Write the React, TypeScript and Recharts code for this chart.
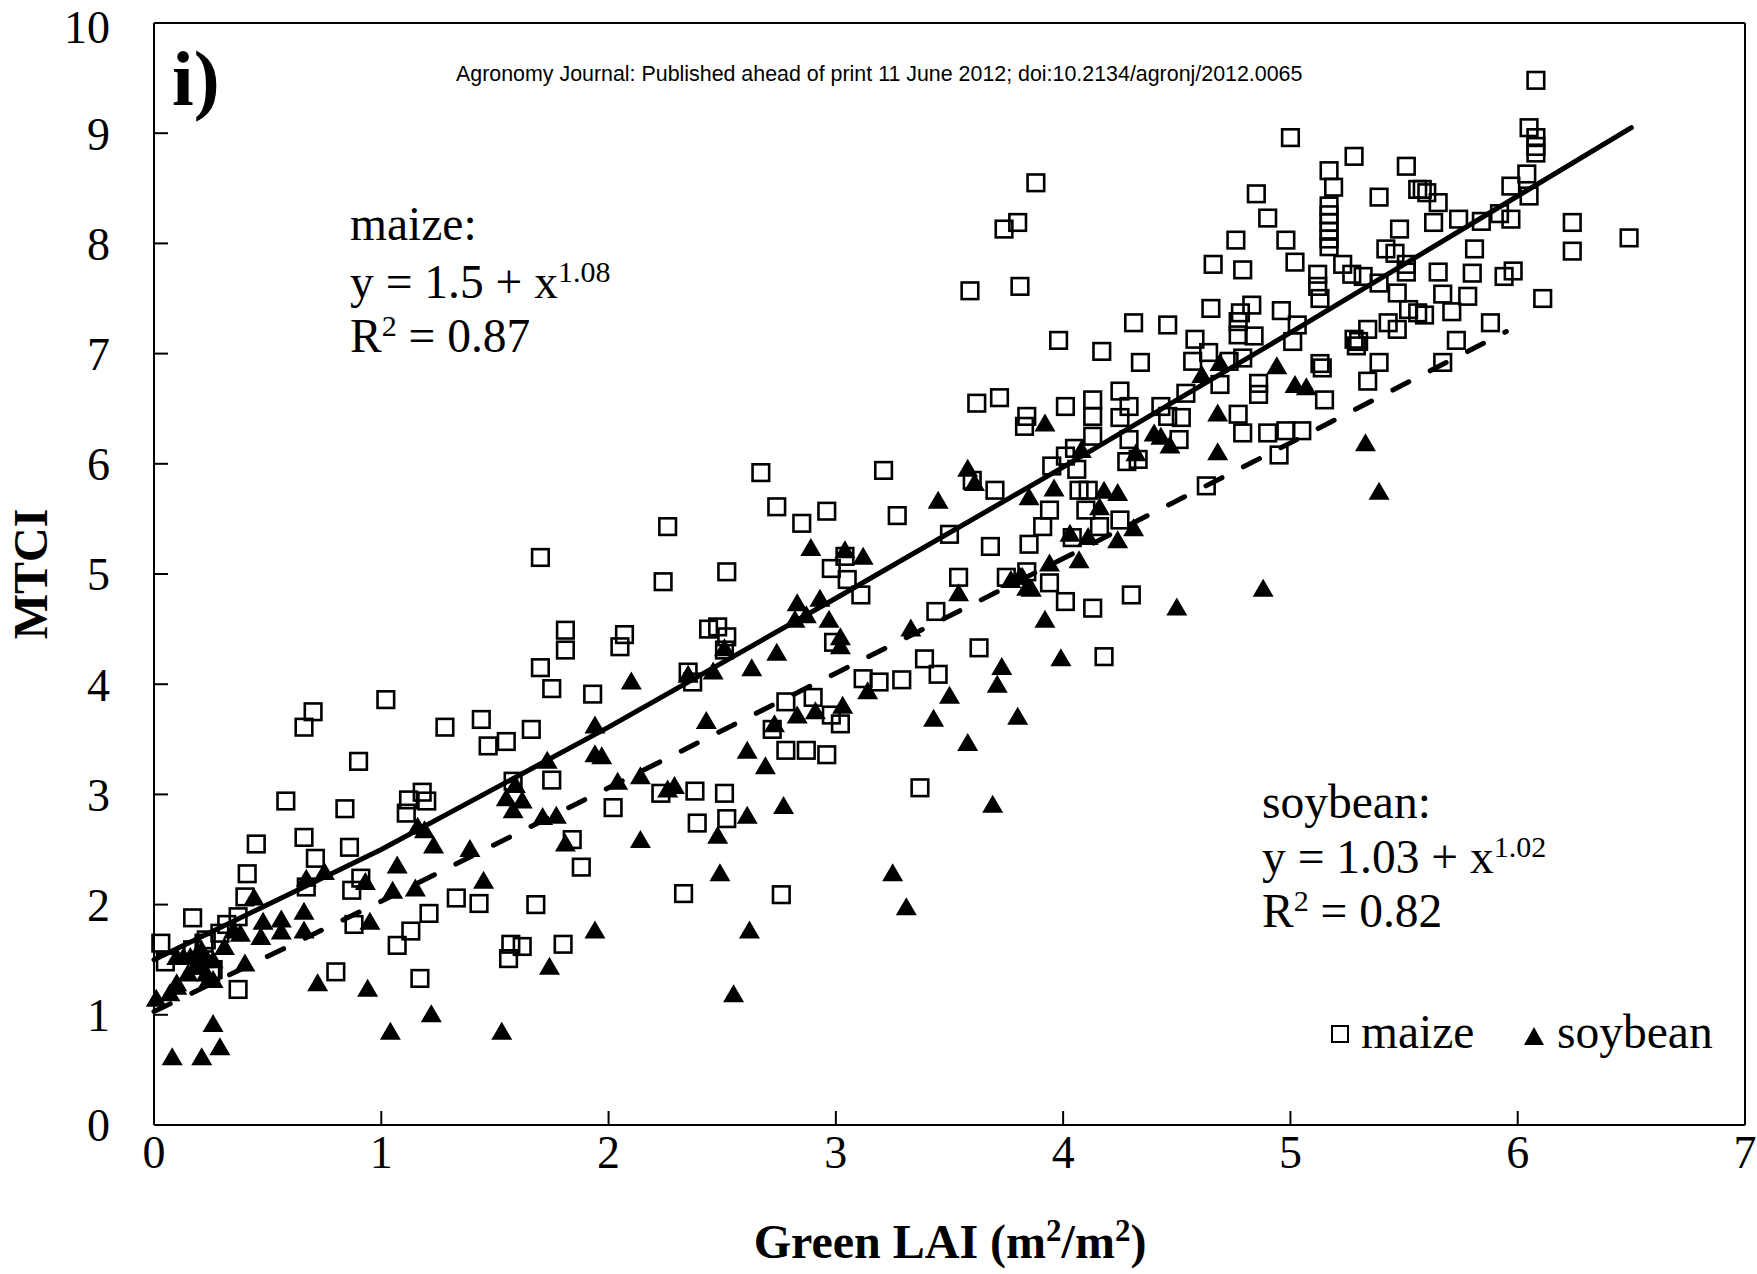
import React from 'react';
import { ScatterChart, Scatter, XAxis, YAxis, ReferenceLine } from 'recharts';

// Green LAI (m2/m2) vs MTCI
const maizeLow: [number, number][] = [
    [0.03, 1.65], [0.05, 1.48], [0.17, 1.88], [0.17, 1.59], [0.22, 1.65], [0.23, 1.68], [0.25, 1.39],
    [0.26, 1.41], [0.29, 1.74], [0.32, 1.82], [0.37, 1.89], [0.37, 1.23], [0.4, 2.07], [0.41, 2.28],
    [0.45, 2.55], [0.58, 2.94], [0.66, 2.61], [0.66, 3.61], [0.67, 2.16], [0.7, 3.75], [0.71, 2.42],
    [0.8, 1.39], [0.84, 2.87], [0.86, 2.52], [0.87, 2.13], [0.88, 1.82], [0.9, 3.3], [0.91, 2.24],
    [1.02, 3.86], [1.07, 1.63], [1.11, 2.83], [1.12, 2.95], [1.13, 1.76], [1.17, 1.33], [1.18, 3.02],
    [1.2, 2.94], [1.21, 1.92], [1.28, 3.61], [1.33, 2.06], [1.43, 2.01], [1.44, 3.68], [1.47, 3.44],
    [1.55, 3.48], [1.56, 1.51], [1.57, 1.64], [1.58, 3.12], [1.62, 1.62], [1.66, 3.59], [1.68, 2.0],
    [1.7, 4.15], [1.7, 5.15], [1.75, 3.96], [1.75, 3.13], [1.8, 1.64], [1.81, 4.49], [1.81, 4.31],
    [1.84, 2.59], [1.88, 2.34], [1.93, 3.91],
];

const maizeMid: [number, number][] = [
    [2.02, 2.88], [2.05, 4.34], [2.07, 4.45], [2.23, 3.01], [2.24, 4.93], [2.26, 5.43], [2.33, 2.1],
    [2.35, 4.11], [2.37, 4.02], [2.38, 3.03], [2.39, 2.74], [2.44, 4.5], [2.48, 4.52], [2.51, 3.01],
    [2.51, 4.31], [2.52, 4.43], [2.52, 2.78], [2.52, 5.02], [2.67, 5.92], [2.72, 3.59], [2.74, 5.61],
    [2.76, 2.09], [2.78, 3.84], [2.78, 3.4], [2.85, 5.46], [2.87, 3.4], [2.9, 3.88], [2.96, 5.57],
    [2.96, 3.36], [2.98, 3.72], [2.98, 5.05], [2.99, 4.38], [3.02, 3.64], [3.04, 5.16], [3.05, 4.95],
    [3.11, 4.81], [3.12, 4.05], [3.19, 4.02], [3.21, 5.94], [3.27, 5.53], [3.29, 4.04], [3.37, 3.06],
    [3.39, 4.23], [3.44, 4.66], [3.45, 4.09], [3.5, 5.36], [3.54, 4.97], [3.59, 7.57], [3.6, 5.85],
    [3.62, 6.55], [3.63, 4.33], [3.68, 5.25], [3.7, 5.76], [3.72, 6.6], [3.74, 8.13], [3.75, 4.97],
    [3.8, 8.19], [3.81, 7.61], [3.83, 6.34], [3.84, 6.43], [3.84, 5.02], [3.85, 5.27], [3.88, 8.55],
    [3.91, 5.43], [3.94, 5.58], [3.94, 4.92], [3.95, 5.98], [3.98, 7.12],
];

const maizeHigh: [number, number][] = [
    [4.01, 6.52], [4.01, 6.07], [4.01, 4.75], [4.04, 5.33], [4.05, 6.14], [4.06, 5.95], [4.07, 5.76],
    [4.1, 5.58], [4.11, 5.76], [4.13, 6.58], [4.13, 6.43], [4.13, 6.25], [4.13, 4.69], [4.16, 5.43],
    [4.17, 7.02], [4.18, 4.25], [4.25, 6.66], [4.25, 6.42], [4.25, 5.49], [4.28, 6.02], [4.29, 6.52],
    [4.29, 6.22], [4.3, 4.81], [4.31, 7.28], [4.33, 6.04], [4.34, 6.92], [4.43, 6.52], [4.46, 6.43],
    [4.46, 7.26], [4.51, 6.22], [4.52, 6.42], [4.54, 6.64], [4.57, 6.93], [4.58, 7.13], [4.63, 5.8],
    [4.64, 7.01], [4.65, 7.41], [4.66, 7.81], [4.69, 6.72], [4.73, 6.93], [4.76, 8.03], [4.77, 7.29],
    [4.77, 7.17], [4.77, 6.45], [4.78, 7.37], [4.79, 7.76], [4.79, 6.96], [4.79, 6.28], [4.83, 7.44],
    [4.84, 7.16], [4.85, 8.45], [4.86, 6.73], [4.86, 6.63], [4.9, 8.23], [4.9, 6.28], [4.95, 6.08],
    [4.96, 7.39], [4.98, 8.03], [4.98, 6.3], [5.0, 8.96], [5.01, 7.11], [5.02, 7.83], [5.03, 7.26],
    [5.05, 6.3], [5.12, 7.72], [5.12, 7.61], [5.13, 7.5], [5.13, 6.91], [5.14, 6.87], [5.15, 6.58],
    [5.17, 8.66], [5.17, 8.34], [5.17, 8.26], [5.17, 8.19], [5.17, 8.11], [5.17, 8.04], [5.17, 7.97],
    [5.19, 8.51], [5.23, 7.81], [5.27, 7.72], [5.28, 8.79], [5.28, 7.13], [5.29, 7.07], [5.3, 7.11],
    [5.32, 7.7], [5.34, 7.22], [5.34, 6.75], [5.39, 8.42], [5.39, 7.64], [5.39, 6.92], [5.42, 7.95],
    [5.43, 7.28], [5.46, 7.91], [5.47, 7.55], [5.47, 7.22], [5.48, 8.13], [5.51, 8.7], [5.51, 7.81],
    [5.51, 7.74], [5.52, 7.4], [5.56, 8.49], [5.56, 7.37], [5.58, 8.49], [5.59, 7.35], [5.6, 8.46],
    [5.63, 8.19], [5.65, 8.37], [5.65, 7.74], [5.67, 7.54], [5.67, 6.92], [5.71, 7.38], [5.73, 7.12],
    [5.74, 8.22], [5.78, 7.52], [5.8, 7.73], [5.81, 7.95], [5.84, 8.2], [5.88, 7.28], [5.92, 8.27],
    [5.94, 7.7], [5.97, 8.52], [5.97, 8.22], [5.98, 7.75], [6.04, 8.63], [6.05, 9.05], [6.05, 8.43],
    [6.08, 9.48], [6.08, 8.96], [6.08, 8.88], [6.08, 8.82], [6.11, 7.5], [6.24, 8.19], [6.24, 7.93],
    [6.49, 8.05],
];

const soybeanLow: [number, number][] = [
    [0.01, 1.15], [0.07, 1.2], [0.08, 0.62], [0.1, 1.26], [0.1, 1.29], [0.1, 1.53], [0.13, 1.53],
    [0.15, 1.38], [0.16, 1.53], [0.18, 1.44], [0.19, 1.56], [0.21, 1.44], [0.21, 1.59], [0.21, 0.62],
    [0.22, 1.5], [0.23, 1.38], [0.24, 1.32], [0.26, 1.5], [0.26, 1.32], [0.26, 0.92], [0.29, 0.71],
    [0.31, 1.62], [0.35, 1.77], [0.38, 1.74], [0.4, 1.47], [0.44, 2.07], [0.47, 1.71], [0.48, 1.85],
    [0.56, 1.87], [0.56, 1.76], [0.66, 1.94], [0.66, 1.77], [0.67, 2.24], [0.72, 1.29], [0.75, 2.3],
    [0.93, 2.21], [0.94, 1.24], [0.95, 1.85], [1.04, 0.85], [1.05, 2.13], [1.07, 2.36], [1.15, 2.15],
    [1.16, 2.71], [1.19, 2.68], [1.22, 1.01], [1.23, 2.54], [1.39, 2.51], [1.45, 2.22], [1.53, 0.85],
    [1.55, 2.97], [1.58, 2.86], [1.59, 3.09], [1.62, 2.95], [1.71, 2.8], [1.73, 3.31], [1.74, 1.44],
    [1.77, 2.81], [1.81, 2.56], [1.94, 3.63], [1.94, 3.37], [1.94, 1.77], [1.97, 3.35],
];

const soybeanMid: [number, number][] = [
    [2.04, 3.12], [2.1, 4.03], [2.14, 3.17], [2.14, 2.59], [2.26, 3.05], [2.29, 3.08], [2.35, 4.09],
    [2.43, 3.67], [2.46, 4.12], [2.48, 2.63], [2.49, 2.29], [2.51, 4.33], [2.55, 1.19], [2.61, 3.4],
    [2.61, 2.81], [2.62, 1.77], [2.63, 4.15], [2.69, 3.26], [2.73, 3.64], [2.74, 4.29], [2.77, 2.9],
    [2.82, 4.59], [2.83, 4.74], [2.83, 3.72], [2.87, 4.63], [2.89, 5.24], [2.91, 3.76], [2.93, 4.78],
    [2.97, 4.59], [3.02, 4.43], [3.02, 4.35], [3.03, 3.81], [3.04, 5.22], [3.12, 5.16], [3.14, 3.94],
    [3.25, 2.29], [3.31, 1.98], [3.33, 4.51], [3.43, 3.69], [3.45, 5.67], [3.5, 3.9], [3.54, 4.83],
    [3.58, 5.96], [3.58, 3.47], [3.61, 5.83], [3.69, 2.91], [3.71, 4.0], [3.73, 4.16], [3.77, 4.95],
    [3.8, 3.71], [3.81, 4.98], [3.82, 4.98], [3.84, 4.88], [3.85, 5.7], [3.86, 4.87], [3.92, 6.37],
    [3.92, 4.59], [3.94, 5.1], [3.96, 5.78], [3.99, 4.24],
];

const soybeanHigh: [number, number][] = [
    [4.03, 5.37], [4.07, 5.13], [4.08, 6.13], [4.11, 5.34], [4.16, 5.61], [4.18, 5.76], [4.24, 5.74],
    [4.24, 5.31], [4.31, 5.42], [4.32, 6.1], [4.4, 6.28], [4.43, 6.25], [4.47, 6.17], [4.5, 4.7],
    [4.61, 6.81], [4.68, 6.46], [4.68, 6.11], [4.69, 6.92], [4.88, 4.87], [4.94, 6.89], [5.02, 6.72],
    [5.07, 6.7], [5.33, 6.19], [5.39, 5.75],
];

// fitted curves drawn in the figure
const maizeFitLai = [0, 1, 2, 3, 4, 5, 6, 6.5];
const maizeFitMtci = [1.5, 2.5, 3.61, 4.78, 5.97, 7.19, 8.43, 9.05];
const soybeanFitLai = [0, 1, 2, 3, 4, 5, 5.95];
const soybeanFitMtci = [1.03, 2.03, 3.06, 4.1, 5.14, 6.19, 7.2];

const xTicks = [0, 1, 2, 3, 4, 5, 6, 7];
const yTicks = [0, 1, 2, 3, 4, 5, 6, 7, 8, 9, 10];

const toXY = (pts: [number, number][]) => pts.map(([x, y]) => ({ x, y }));
const maizeData = toXY([...maizeLow, ...maizeMid, ...maizeHigh]);
const soybeanData = toXY([...soybeanLow, ...soybeanMid, ...soybeanHigh]);
const maizeFit = maizeFitLai.map((x, i) => ({ x, y: maizeFitMtci[i] }));
const soybeanFit = soybeanFitLai.map((x, i) => ({ x, y: soybeanFitMtci[i] }));

const SERIF = '"Liberation Serif", "Times New Roman", serif';

const SquareMark = (props: any) => {
    const { cx, cy } = props;
    return <rect x={cx - 8.3} y={cy - 8.3} width={16.6} height={16.6} fill="none" stroke="#000" strokeWidth={2.6} />;
};

const TriangleMark = (props: any) => {
    const { cx, cy } = props;
    return <polygon points={`${cx},${cy - 9.5} ${cx + 10.5},${cy + 8.5} ${cx - 10.5},${cy + 8.5}`} fill="#000" />;
};

const NoMark = () => <g />;

export default function App() {
    return (
        <div style={{ position: 'absolute', left: 0, top: 0, width: 1757, height: 1274, background: '#fff' }}>
            <ScatterChart width={1757} height={1274} margin={{ top: 23, right: 12, bottom: 0, left: 0 }}>
                <XAxis
                    type="number"
                    dataKey="x"
                    domain={[0, 7]}
                    ticks={xTicks}
                    height={149}
                    tickSize={-14}
                    tickMargin={24}
                    axisLine={{ stroke: '#000', strokeWidth: 2 }}
                    tickLine={{ stroke: '#000', strokeWidth: 2 }}
                    tick={{ fontSize: 46, fill: '#000', fontFamily: SERIF }}
                />
                <YAxis
                    type="number"
                    dataKey="y"
                    domain={[0, 10]}
                    ticks={yTicks}
                    width={154}
                    tickSize={-14}
                    tickMargin={58}
                    axisLine={{ stroke: '#000', strokeWidth: 2 }}
                    tickLine={{ stroke: '#000', strokeWidth: 2 }}
                    tick={{ fontSize: 46, fill: '#000', fontFamily: SERIF }}
                />
                <ReferenceLine y={10} stroke="#000" strokeWidth={2} />
                <ReferenceLine x={7} stroke="#000" strokeWidth={2} />
                <Scatter name="maize" data={maizeData} shape={SquareMark} isAnimationActive={false} />
                <Scatter name="soybean" data={soybeanData} shape={TriangleMark} isAnimationActive={false} />
                <Scatter
                    name="maize fit"
                    data={maizeFit}
                    shape={NoMark}
                    line={{ stroke: '#000', strokeWidth: 5, strokeLinecap: 'round' }}
                    isAnimationActive={false}
                />
                <Scatter
                    name="soybean fit"
                    data={soybeanFit}
                    shape={NoMark}
                    line={{ stroke: '#000', strokeWidth: 5, strokeDasharray: '18 24', strokeLinecap: 'round' }}
                    isAnimationActive={false}
                />
            </ScatterChart>

            {/* annotations, axis titles and legend */}
            <svg width={1757} height={1274} style={{ position: 'absolute', left: 0, top: 0, pointerEvents: 'none' }} fontFamily={SERIF} fill="#000">
                <text x={172} y={105} fontSize={78} fontWeight="bold">i)</text>
                <text x={456} y={81} fontSize={21.4} fontFamily='"Liberation Sans", Arial, sans-serif'>
                    Agronomy Journal: Published ahead of print 11 June 2012; doi:10.2134/agronj/2012.0065
                </text>

                <text x={350} y={240} fontSize={47.5}>maize:</text>
                <text x={350} y={298} fontSize={47.5}>
                    y = 1.5 + x<tspan fontSize={30} dy={-16}>1.08</tspan>
                </text>
                <text x={350} y={352} fontSize={47.5}>
                    R<tspan fontSize={30} dy={-16}>2</tspan><tspan dy={16}> = 0.87</tspan>
                </text>

                <text x={1262} y={818} fontSize={47.5}>soybean:</text>
                <text x={1262} y={873} fontSize={47.5}>
                    y = 1.03 + x<tspan fontSize={30} dy={-16}>1.02</tspan>
                </text>
                <text x={1262} y={927} fontSize={47.5}>
                    R<tspan fontSize={30} dy={-16}>2</tspan><tspan dy={16}> = 0.82</tspan>
                </text>

                <rect x={1332} y={1026} width={16} height={16} fill="none" stroke="#000" strokeWidth={2} />
                <text x={1361} y={1048} fontSize={47.5}>maize</text>
                <polygon points="1534,1027 1544,1045 1524,1045" fill="#000" />
                <text x={1557} y={1048} fontSize={47.5}>soybean</text>

                <text transform="translate(47,574) rotate(-90)" textAnchor="middle" fontSize={48} fontWeight="bold">MTCI</text>
                <text x={950} y={1258} textAnchor="middle" fontSize={48} fontWeight="bold">
                    Green LAI (m<tspan fontSize={31} dy={-17}>2</tspan><tspan dy={17}>/m</tspan><tspan fontSize={31} dy={-17}>2</tspan><tspan dy={17}>)</tspan>
                </text>
            </svg>
        </div>
    );
}
